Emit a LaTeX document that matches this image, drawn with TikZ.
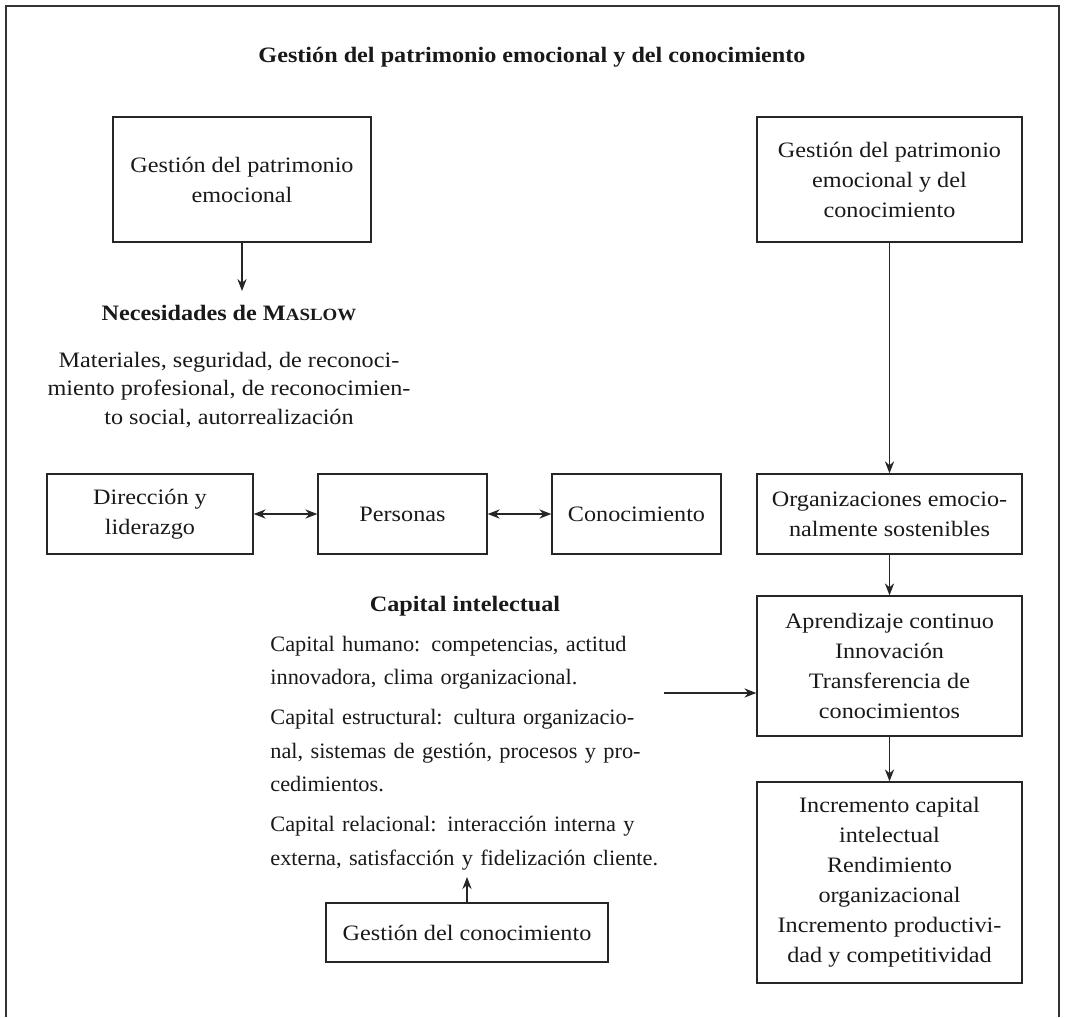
\documentclass[tikz,border=0pt]{standalone}
\usepackage{fontspec}
\setmainfont{Liberation Serif}[FakeStretch=1.1]
\newfontfamily\capfont{Liberation Serif}[FakeStretch=1.015]
\usetikzlibrary{arrows.meta}
\newcommand\jline[1]{\hbox to 195pt{#1}}
\newcommand\lline[1]{\hbox{#1}}
\newcommand\fakesc[2]{#1{\fontsize{8.6}{15}\selectfont #2}}
\begin{document}
\begin{tikzpicture}[x=0.5pt,y=-0.5pt,
  every node/.style={font=\fontsize{11}{15}\selectfont, inner sep=0pt, text=black!90},
  box/.style={draw=black!85, line width=0.65pt, align=center},
  sz/.style 2 args={minimum width=#1*0.5pt, minimum height=#2*0.5pt},
  arr/.style={draw=black!85, -{Stealth[length=6pt,width=4.6pt]}, line width=0.65pt},
  darr/.style={draw=black!85, {Stealth[length=6pt,width=4.6pt]}-{Stealth[length=6pt,width=4.6pt]}, line width=0.65pt},
]
\useasboundingbox (0,0) rectangle (1065,1017);
\draw[line width=0.75pt, black!80] (6,1017) -- (6,6) -- (1059,6) -- (1059,1017);

\node (title) at (532,57) {\textbf{Gestión del patrimonio emocional y del conocimiento}};

\node[box, sz={258}{125}] (pe) at (242,179.5) {Gestión del patrimonio\\emocional};
\node (nm) at (229,313) {\textbf{Necesidades de \fakesc{M}{ASLOW}}};
\node[align=center, font=\fontsize{11}{14.2}\selectfont] (ml) at (229,390) {Materiales, seguridad, de reconoci-\\miento profesional, de reconocimien-\\to social, autorrealización};
\coordinate (mt) at (242,291);

\node[box, sz={206}{80}] (dl) at (150,514) {Dirección y\\liderazgo};
\node[box, sz={169}{80}] (pp) at (402.5,514) {Personas};
\node[box, sz={169}{80}] (cn) at (636.5,514) {Conocimiento};

\node[box, sz={265}{125}] (pc) at (889.5,179.5) {Gestión del patrimonio\\emocional y del\\conocimiento};
\node[box, sz={265}{80}] (oe) at (889.5,514) {Organizaciones emocio-\\nalmente sostenibles};
\node[box, sz={265}{140}] (ap) at (889.5,666) {Aprendizaje continuo\\Innovación\\Transferencia de\\conocimientos};
\node[box, sz={265}{201}] (ic) at (889.5,882.5) {Incremento capital\\intelectual\\Rendimiento\\organizacional\\Incremento productivi-\\dad y competitividad};

\node (ci) at (465,606) {\textbf{Capital intelectual}};
\node[anchor=base west, text width=195pt, font=\capfont\fontsize{11}{16.75}\selectfont] (ct) at (270,651) {%
\jline{Capital humano: competencias, actitud}
\lline{innovadora, clima organizacional.}
\vskip 3.25pt
\jline{Capital estructural: cultura organizacio-}
\jline{nal, sistemas de gestión, procesos y pro-}
\lline{cedimientos.}
\vskip 3.25pt
\jline{Capital relacional: interacción interna y}
\jline{externa, satisfacción y fidelización cliente.}};

\node[box, sz={282}{59}] (gc) at (467,932.5) {Gestión del conocimiento};

\coordinate (cs) at (664,693);
\coordinate (ce) at (467,877);

\draw[arr] (pe.south) -- (mt);
\draw[darr] (dl) -- (pp);
\draw[darr] (pp) -- (cn);
\draw[arr] (pc) -- (oe);
\draw[arr] (oe) -- (ap);
\draw[arr] (ap) -- (ic);
\draw[arr] (cs) -- (cs -| ap.west);
\draw[arr] (gc) -- (ce);
\end{tikzpicture}
\end{document}
